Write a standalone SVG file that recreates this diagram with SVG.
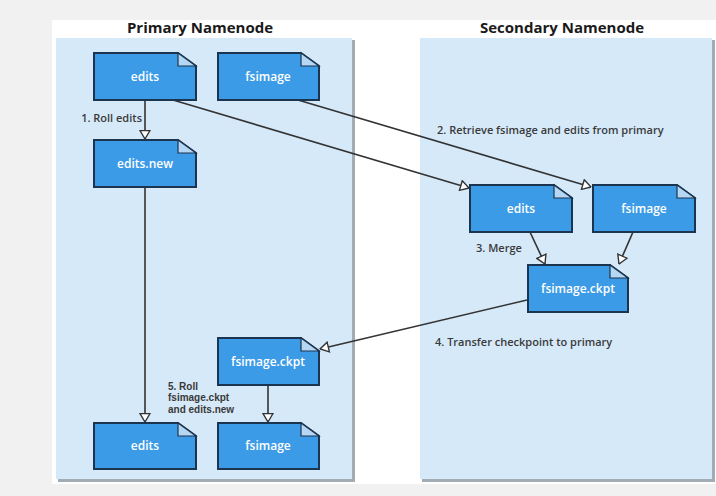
<svg xmlns="http://www.w3.org/2000/svg" width="716" height="496" viewBox="0 0 716 496">
<defs>
<marker id="tri" viewBox="0 0 10 12" refX="9.5" refY="6" markerWidth="10" markerHeight="12" markerUnits="userSpaceOnUse" orient="auto">
<path d="M1,1 L9.5,6 L1,11 Z" fill="#ffffff" stroke="#333333" stroke-width="1.4" stroke-linejoin="miter"/>
</marker>
</defs>
<style>
.doc{fill:#3c9be6;stroke:#1b3550;stroke-width:2}
.fold{fill:#b5d7f3;stroke:#1b3550;stroke-width:1.2}
.nt{font-family:"Open Sans","Liberation Sans",sans-serif;font-size:12px;font-weight:600;fill:#ffffff;text-anchor:middle}
.lbl{font-family:"Open Sans","Liberation Sans",sans-serif;font-size:11px;font-weight:600;fill:#3a3a3a}
.lbl5{font-family:"Liberation Sans",Arial,sans-serif;font-size:10px;font-weight:700;fill:#3a3a3a}
.ttl{font-family:"Open Sans","Liberation Sans",sans-serif;font-size:15px;font-weight:700;fill:#1a1a1a;text-anchor:middle}
.panel{fill:#d6e9f9}
.shadow{fill:#a3abb3}
.con{stroke:#333333;stroke-width:1.6;fill:none;marker-end:url(#tri)}
</style>
<rect x="0" y="0" width="716" height="496" fill="#f1f1f1"/>
<rect x="52" y="20" width="664" height="464" fill="#ffffff"/>
<g id="primary-panel">
<rect class="shadow" x="58" y="40" width="297" height="442"/>
<rect class="panel" x="56" y="38" width="296" height="441"/>
<text class="ttl" x="200" y="33">Primary Namenode</text>
</g>
<g id="secondary-panel">
<rect class="shadow" x="422" y="40" width="293" height="442"/>
<rect class="panel" x="420" y="38" width="292" height="441"/>
<text class="ttl" x="562" y="33">Secondary Namenode</text>
</g>
<g id="connectors">
<line class="con" x1="145" y1="100" x2="145" y2="139"/>
<line class="con" x1="145" y1="187" x2="145" y2="422"/>
<line class="con" x1="173" y1="100" x2="469" y2="188"/>
<line class="con" x1="298" y1="100" x2="591" y2="187"/>
<line class="con" x1="530" y1="232" x2="545" y2="264"/>
<line class="con" x1="633" y1="232" x2="619" y2="264"/>
<line class="con" x1="527" y1="300" x2="320" y2="349"/>
<line class="con" x1="268" y1="385" x2="268" y2="422"/>
</g>
<g id="labels">
<text class="lbl" x="142" y="122" text-anchor="end">1. Roll edits</text>
<text class="lbl" x="437" y="134">2. Retrieve fsimage and edits from primary</text>
<text class="lbl" x="476" y="252">3. Merge</text>
<text class="lbl" x="435" y="346">4. Transfer checkpoint to primary</text>
<text class="lbl5" x="168" y="389.5">5. Roll</text>
<text class="lbl5" x="168" y="401">fsimage.ckpt</text>
<text class="lbl5" x="168" y="412.5">and edits.new</text>
</g>
<g id="p-edits">
<path class="doc" d="M94,53 H178 L196,66 V100 H94 Z"/>
<path class="fold" d="M178,53 V66 H196 Z"/>
<text class="nt" x="145" y="81">edits</text>
</g>
<g id="p-fsimage">
<path class="doc" d="M218,53 H301 L319,66 V100 H218 Z"/>
<path class="fold" d="M301,53 V66 H319 Z"/>
<text class="nt" x="268" y="81">fsimage</text>
</g>
<g id="p-edits-new">
<path class="doc" d="M94,140 H178 L196,153 V187 H94 Z"/>
<path class="fold" d="M178,140 V153 H196 Z"/>
<text class="nt" x="145" y="168">edits.new</text>
</g>
<g id="s-edits">
<path class="doc" d="M470,185 H554 L572,198 V232 H470 Z"/>
<path class="fold" d="M554,185 V198 H572 Z"/>
<text class="nt" x="521" y="213">edits</text>
</g>
<g id="s-fsimage">
<path class="doc" d="M593,185 H677 L695,198 V232 H593 Z"/>
<path class="fold" d="M677,185 V198 H695 Z"/>
<text class="nt" x="644" y="213">fsimage</text>
</g>
<g id="s-ckpt">
<path class="doc" d="M528,265 H610 L628,278 V312 H528 Z"/>
<path class="fold" d="M610,265 V278 H628 Z"/>
<text class="nt" x="578" y="293">fsimage.ckpt</text>
</g>
<g id="p-ckpt">
<path class="doc" d="M218,338 H301 L319,351 V385 H218 Z"/>
<path class="fold" d="M301,338 V351 H319 Z"/>
<text class="nt" x="268" y="366">fsimage.ckpt</text>
</g>
<g id="p-edits2">
<path class="doc" d="M94,423 H178 L196,436 V469 H94 Z"/>
<path class="fold" d="M178,423 V436 H196 Z"/>
<text class="nt" x="145" y="450">edits</text>
</g>
<g id="p-fsimage2">
<path class="doc" d="M218,423 H301 L319,436 V469 H218 Z"/>
<path class="fold" d="M301,423 V436 H319 Z"/>
<text class="nt" x="268" y="450">fsimage</text>
</g>
</svg>
